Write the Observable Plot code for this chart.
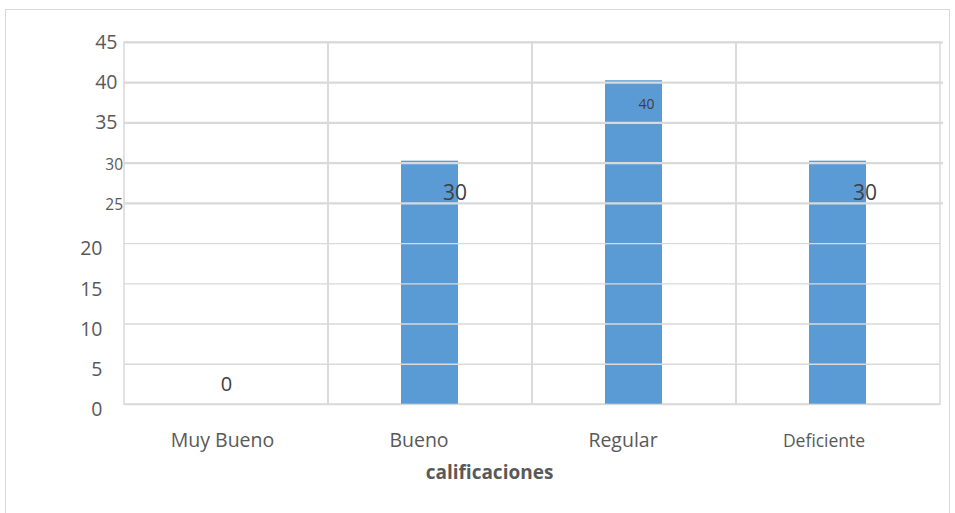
<!DOCTYPE html>
<html>
<head>
<meta charset="utf-8">
<script src="https://cdn.jsdelivr.net/npm/d3@7"></script>
<script src="https://cdn.jsdelivr.net/npm/@observablehq/plot@0.6"></script>
<style>
  body { margin: 0; background: #fff; }
  #chart { position: relative; width: 955px; height: 513px; overflow: hidden; }
  #chart .box { position: absolute; left: 5px; top: 9px; width: 945px; height: 530px; border: 1px solid #d9d9d9; box-sizing: border-box; }
  #chart svg { position: absolute; left: 0; top: 0; }
</style>
</head>
<body>
<div id="chart"><div class="box"></div></div>
<script>
// Ratings and how many answers fell in each
const categories = ["Muy Bueno", "Bueno", "Regular", "Deficiente"];
const values = [0, 30, 40, 30];

// Y tick groups (the axis labels come in three sizes)
const yTicksUpper = [35, 40, 45];
const yTicksMid = [25, 30];
const yTicksLower = [0, 5, 10, 15, 20];
const xTitle = "calificaciones";

const rows = categories.map((category, i) => ({category, value: values[i]}));
const font = "'Open Sans', 'Noto Sans', sans-serif";
const grid = "#d9d9d9";
const tickColor = "#595959";
const labelColor = "#404040";

const byName = name => rows.filter(d => d.category === name);

const chart = Plot.plot({
  width: 955,
  height: 513,
  marginLeft: 124,
  marginRight: 15,
  marginTop: 42,
  marginBottom: 109,
  style: {fontFamily: font, background: "transparent", overflow: "visible"},
  x: {type: "band", domain: categories, padding: 0, axis: null},
  y: {domain: [0, 45], axis: null},
  marks: [
    // column dividers: one outlined cell per category
    Plot.barY(categories, {x: d => d, y1: 0, y2: 45, fill: "none", stroke: grid, strokeWidth: 1.5, inset: 0}),
    // bars (a thin cap rises just above the value line)
    Plot.barY(rows.filter(d => d.value > 0), {x: "category", y: "value", fill: "#5b9bd5", insetLeft: 73, insetRight: 74, insetTop: -2}),
    // horizontal gridlines, drawn over the bars
    Plot.ruleY(yTicksUpper.concat(yTicksMid), {stroke: grid, strokeWidth: 2.2, insetRight: -3}),
    Plot.ruleY(yTicksLower, {stroke: grid, strokeWidth: 1.4}),
    // y axis labels
    Plot.axisY(yTicksUpper, {label: null, tickSize: 0, tickPadding: 7, fontSize: 19.5, fill: tickColor}),
    Plot.axisY(yTicksMid, {label: null, tickSize: 0, tickPadding: 1.5, fontSize: 15.5, fill: tickColor, dy: 1.5}),
    Plot.axisY(yTicksLower, {label: null, tickSize: 0, tickPadding: 22, fontSize: 19.5, fill: tickColor, dy: 5.5}),
    // x axis labels
    Plot.axisX(["Muy Bueno"], {label: null, tickSize: 0, tickPadding: 29, fontSize: 19.5, fill: tickColor, dx: -4}),
    Plot.axisX(["Bueno", "Regular"], {label: null, tickSize: 0, tickPadding: 29, fontSize: 19.5, fill: tickColor, dx: -11.5}),
    Plot.axisX(["Deficiente"], {label: null, tickSize: 0, tickPadding: 30, fontSize: 17.5, fill: tickColor, dx: -14.5}),
    // value labels
    Plot.text(byName("Muy Bueno"), {x: "category", y: "value", text: d => String(d.value), fontSize: 20, fill: labelColor, dy: -20}),
    Plot.text(byName("Bueno"), {x: "category", y: "value", text: d => String(d.value), fontSize: 21, fill: labelColor, dx: 24.5, dy: 30}),
    Plot.text(byName("Regular"), {x: "category", y: "value", text: d => String(d.value), fontSize: 14, fill: labelColor, dx: 12, dy: 22}),
    Plot.text(byName("Deficiente"), {x: "category", y: "value", text: d => String(d.value), fontSize: 21, fill: labelColor, dx: 26.5, dy: 30.5}),
    // axis title
    Plot.text([xTitle], {frameAnchor: "bottom", text: d => d, dx: -43, dy: 74, fontSize: 19, fontWeight: "bold", fill: tickColor})
  ]
});

document.getElementById("chart").appendChild(chart);
</script>
</body>
</html>
